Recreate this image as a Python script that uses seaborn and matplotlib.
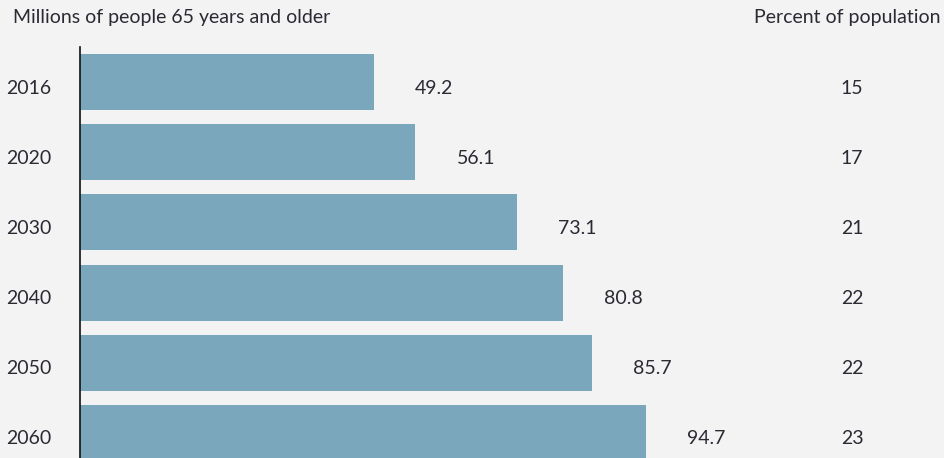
import matplotlib
matplotlib.use("Agg")
import matplotlib.pyplot as plt
import seaborn as sns
import pandas as pd

years = ["2016", "2020", "2030", "2040", "2050", "2060"]
millions = [49.2, 56.1, 73.1, 80.8, 85.7, 94.7]
percent = [15, 17, 21, 22, 22, 23]

bg = "#f3f3f3"
bar_color = "#7ba7bc"
text_color = "#2a2a33"

sns.set_style("white")
plt.rcParams["font.family"] = ["Lato", "DejaVu Sans"]

df = pd.DataFrame({"year": years, "millions": millions, "percent": percent})

fig = plt.figure(figsize=(9.44, 4.58), dpi=100, facecolor=bg)
ax = fig.add_axes([80 / 944, -10 / 458, 864 / 944, 421 / 458])
ax.set_facecolor(bg)

sns.barplot(data=df, x="millions", y="year", orient="h", color=bar_color,
            saturation=1, width=0.8, linewidth=0, ax=ax)

ax.set_xlim(0, 864 / 5.98)
ax.set_ylim(5.5, -0.5)
sns.despine(ax=ax, left=False, bottom=True, top=True, right=True)
ax.spines["left"].set_color("#111111")
ax.spines["left"].set_linewidth(1.2)
ax.set_xticks([])
ax.set_yticks([])
ax.set_xlabel("")
ax.set_ylabel("")

fs = 14
for i, (y, v, p) in enumerate(zip(years, millions, percent)):
    ax.annotate(y, xy=(29 / 944, i), xycoords=("figure fraction", "data"),
                xytext=(0, -6), textcoords="offset pixels",
                ha="center", va="center", fontsize=fs, color=text_color,
                annotation_clip=False)
    ax.annotate(f"{v}", xy=(v, i), xytext=(41, -6), textcoords="offset pixels",
                ha="left", va="center", fontsize=fs, color=text_color)
    ax.annotate(f"{p}", xy=(852 / 944, i), xycoords=("figure fraction", "data"),
                xytext=(0, -6), textcoords="offset pixels",
                ha="center", va="center", fontsize=fs, color=text_color)

fig.text(13 / 944, 1 - 18 / 458, "Millions of people 65 years and older",
         ha="left", va="center", fontsize=fs, color=text_color)
fig.text(940 / 944, 1 - 18 / 458, "Percent of population",
         ha="right", va="center", fontsize=fs, color=text_color)

fig.savefig("out.png", dpi=100, facecolor=bg)
